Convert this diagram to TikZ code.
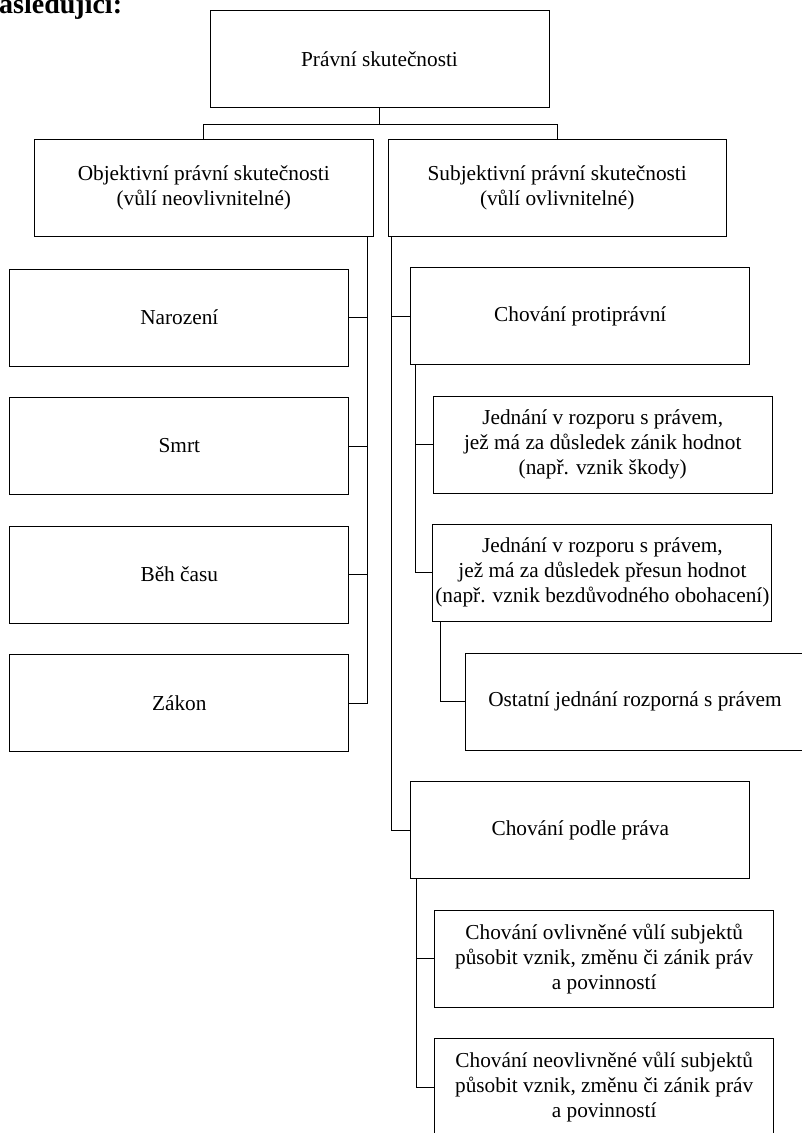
\documentclass[tikz,border=0pt]{standalone}
\usepackage{fontspec}
\setmainfont{Liberation Serif}
\begin{document}
\begin{tikzpicture}[x=1pt,y=-1pt,
  box/.style={draw, line width=1pt, inner sep=0pt, minimum width=339pt, minimum height=97pt, align=center, font=\fontsize{21.3}{25}\selectfont},
  conn/.style={line width=1pt}]
\useasboundingbox (0,0) rectangle (802,1133);
\node[anchor=base west, inner sep=0pt, font=\bfseries\fontsize{28}{30}\selectfont] (head) at (-1,13.5) {asledující:};
\node[box] (top) at (379.5,59) {Právní skutečnosti};
\node[box, minimum width=338.5pt] (obj) at (203.8,187.7) {Objektivní právní skutečnosti\\(vůlí neovlivnitelné)};
\node[box, minimum width=338.3pt] (subj) at (557.2,187.7) {Subjektivní právní skutečnosti\\(vůlí ovlivnitelné)};
\node[box] (narozeni) at (179.3,317.5) {Narození};
\node[box] (smrt) at (179.3,446) {Smrt};
\node[box] (behcasu) at (179.3,574.5) {Běh času};
\node[box] (zakon) at (179.3,703) {Zákon};
\node[box] (protipravni) at (580.3,316) {Chování protiprávní};
\node[box] (jed1) at (602.7,444.5) {Jednání v rozporu s právem,\\jež má za důsledek zánik hodnot\\(např. vznik škody)};
\node[box] (jed2) at (602.4,572.5) {Jednání v rozporu s právem,\\jež má za důsledek přesun hodnot\\(např. vznik bezdůvodného obohacení)};
\node[box] (ostatni) at (635,701.7) {Ostatní jednání rozporná s právem};
\node[box] (podle) at (580.3,830.3) {Chování podle práva};
\node[box] (ovliv) at (604.2,958.7) {Chování ovlivněné vůlí subjektů\\působit vznik, změnu či zánik práv\\a povinností};
\node[box] (neovliv) at (604.2,1087.3) {Chování neovlivněné vůlí subjektů\\působit vznik, změnu či zánik práv\\a povinností};

\draw[conn] (top.south) -- ++(0,16) coordinate (tj) -| (obj.north);
\draw[conn] (tj) -| (subj.north);

\coordinate (lt) at ([xshift=-6pt]obj.south east);
\draw[conn] (lt) |- (zakon.east);
\foreach \n in {narozeni,smrt,behcasu} \draw[conn] (\n.east) -- (\n.east -| lt);

\coordinate (rt) at ([xshift=3.5pt]subj.south west);
\draw[conn] (rt) |- (podle.west);
\draw[conn] (protipravni.west) -- (protipravni.west -| rt);

\coordinate (pt) at ([xshift=5.3pt]protipravni.south west);
\draw[conn] (pt) |- (jed2.west);
\draw[conn] (jed1.west) -- (jed1.west -| pt);

\coordinate (jt) at ([xshift=8.3pt]jed2.south west);
\draw[conn] (jt) |- (ostatni.west);

\coordinate (dt) at ([xshift=5.8pt]podle.south west);
\draw[conn] (dt) |- (neovliv.west);
\draw[conn] (ovliv.west) -- (ovliv.west -| dt);
\end{tikzpicture}
\end{document}
